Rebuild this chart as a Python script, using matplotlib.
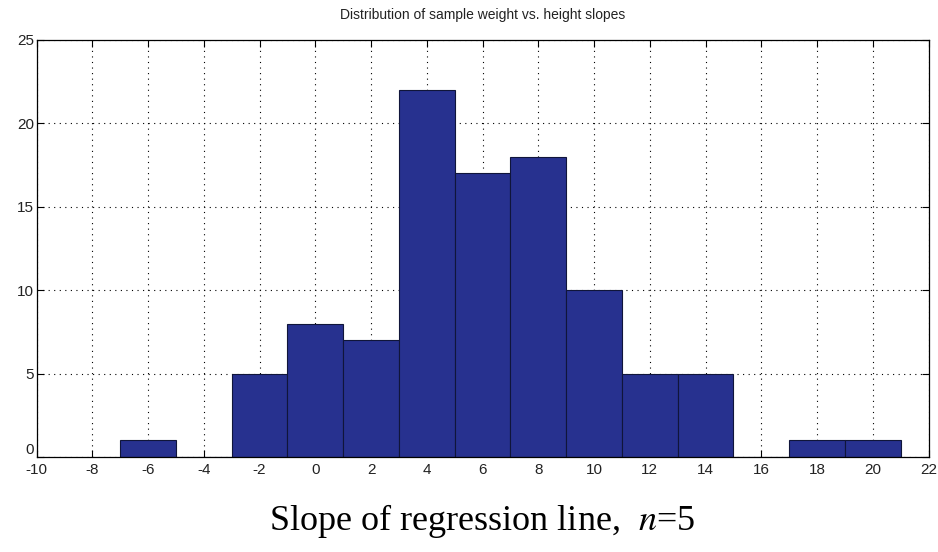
import matplotlib
matplotlib.use("Agg")
import matplotlib.pyplot as plt
import numpy as np

plt.rcParams['mathtext.fontset'] = 'stix'

# histogram of slopes, bins 2 wide
bin_edges = [-7, -5, -3, -1, 1, 3, 5, 7, 9, 11, 13, 15, 17, 19, 21]
counts = [1, 0, 5, 8, 7, 22, 17, 18, 10, 5, 5, 0, 1, 1]
xticks = list(range(-10, 23, 2))
yticks = [0, 5, 10, 15, 20, 25]

fig = plt.figure(figsize=(9.38, 5.52), dpi=100)
ax = fig.add_axes([0.039, 0.172, 0.951, 0.756])

lefts = np.asarray(bin_edges[:-1])
widths = np.diff(bin_edges)
ax.bar(lefts, counts, width=widths, align='edge', color='#27318f',
       edgecolor='#10153a', linewidth=0.8, zorder=2)

ax.set_xlim(-10, 22)
ax.set_ylim(0, 25)
ax.set_xticks(xticks)
ax.set_yticks(yticks)
ax.set_xticklabels([str(t) for t in xticks], family='Liberation Sans')
ax.set_yticklabels([str(t) for t in yticks], family='Liberation Sans')
ax.tick_params(direction='in', top=True, right=True, length=5, labelsize=11,
               pad=2, labelcolor='#222222')
ax.tick_params(axis='x', pad=4)
# lift the "0" on the y axis so it clears the "-10" below it
ax.get_yticklabels()[0].set_va('bottom')
ax.grid(True, color='black', linestyle=(0, (1, 4)), linewidth=0.8, zorder=1)
ax.set_axisbelow(True)
for s in ax.spines.values():
    s.set_linewidth(0.9)

ax.set_title('Distribution of sample weight vs. height slopes', fontsize=10,
             family='Liberation Sans', pad=15, color='#222222')
ax.set_xlabel(r'Slope of regression line,  $\mathit{n}$=5', fontsize=26,
              family='Liberation Serif', labelpad=18)

fig.savefig('out.png', dpi=100)
